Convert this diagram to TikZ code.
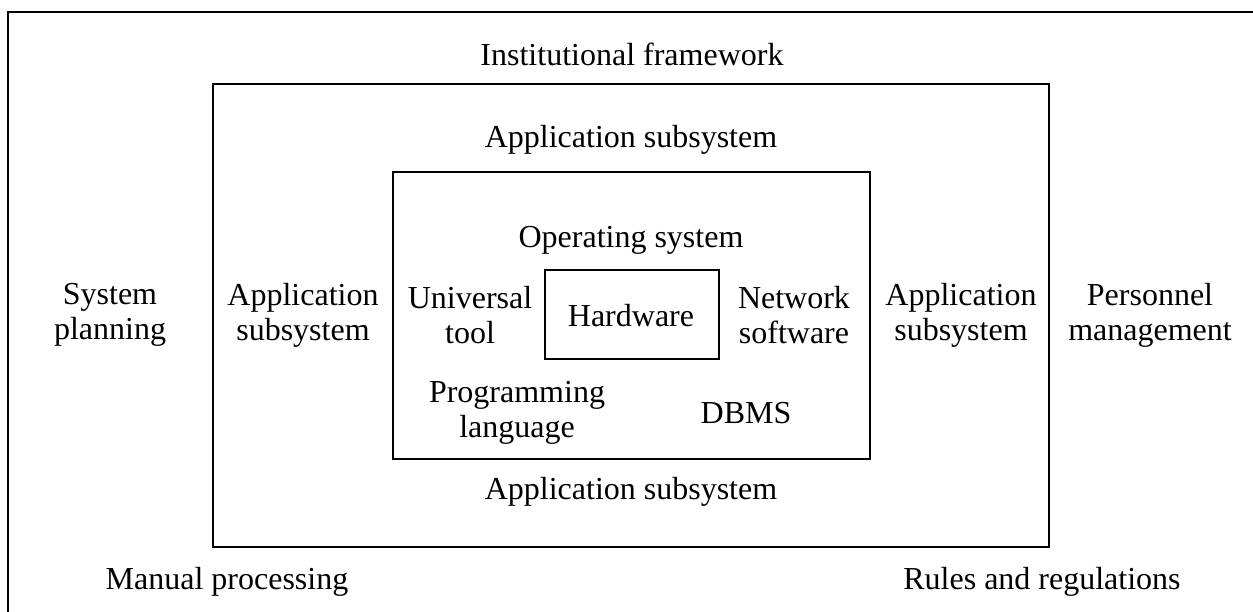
\documentclass[tikz,border=0pt]{standalone}
\usepackage{fontspec}
\setmainfont{Liberation Serif}
\usepackage{tikz}

\tikzset{
  marco/.style={draw, line width=1.6pt},
  etiqueta/.style={align=center, inner sep=0pt, font=\fontsize{32}{35}\selectfont}
}

\begin{document}
\begin{tikzpicture}[x=1pt, y=-1pt]

		\useasboundingbox (0,0) rectangle (1253,612);

		% Marcos anidados
		\draw[marco] (8,12) rectangle (1262,622);   % Marco institucional (cortado)
		\draw[marco] (213,84) rectangle (1049,547); % Subsistemas de aplicacion
		\draw[marco] (393,172) rectangle (870,459); % Software de sistema
		\draw[marco] (545,270) rectangle (719,359); % Hardware

		% Etiquetas exteriores
		\node[etiqueta] (marco) at (632,54) {Institutional framework};
		\node[etiqueta] (planif) at (110,315) {System\\planning};
		\node[etiqueta] (personal) at (1150,315) {Personnel\\management};
		\node[etiqueta] (manual) at (227,582) {Manual processing};
		\node[etiqueta] (reglas) at (1042,582) {Rules and regulations};

		% Subsistemas de aplicacion
		\node[etiqueta] (appsup) at (631,140) {Application subsystem};
		\node[etiqueta] (appizq) at (303,315) {Application\\subsystem};
		\node[etiqueta] (appder) at (961,315) {Application\\subsystem};
		\node[etiqueta] (appinf) at (631,492) {Application subsystem};

		% Software de sistema
		\node[etiqueta] (so) at (631,240) {Operating system};
		\node[etiqueta] (util) at (470,315) {Universal\\tool};
		\node[etiqueta] (red) at (794,315) {Network\\software};
		\node[etiqueta] (leng) at (517,413) {Programming\\language};
		\node[etiqueta] (dbms) at (746,413) {DBMS};

		% Hardware
		\node[etiqueta] (hw) at (631,316) {Hardware};

	\end{tikzpicture}
\end{document}
